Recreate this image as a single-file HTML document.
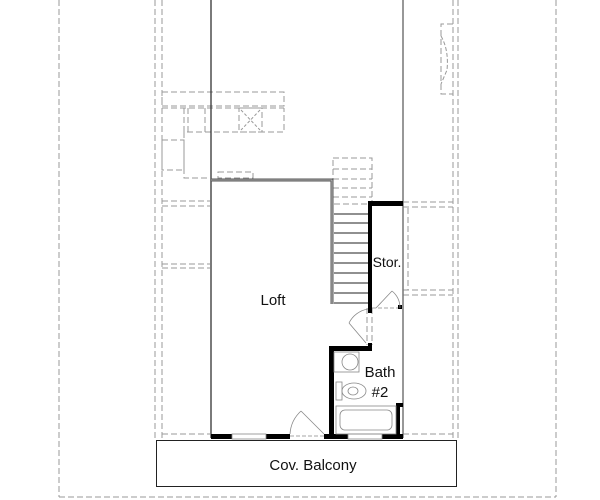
<!DOCTYPE html>
<html><head><style>
html,body{margin:0;padding:0;background:#fff;width:600px;height:500px;overflow:hidden}
svg{display:block}
text{font-family:"Liberation Sans",sans-serif;fill:#111}
</style></head><body>
<svg width="600" height="500" viewBox="0 0 600 500">
<g fill="none" stroke="#999" stroke-width="1" stroke-dasharray="6,3">
  <line x1="59" y1="0" x2="59" y2="497"/>
  <line x1="556" y1="0" x2="556" y2="497"/>
  <line x1="59" y1="497" x2="556" y2="497"/>
  <line x1="155" y1="0" x2="155" y2="440"/>
  <line x1="162" y1="0" x2="162" y2="440"/>
  <line x1="453" y1="0" x2="453" y2="440"/>
  <line x1="458" y1="0" x2="458" y2="440"/>
  <rect x="162" y="92" width="122" height="14"/>
  <line x1="162" y1="108" x2="284" y2="108"/>
  <polyline points="184,108 184,132 284,132 284,108"/>
  <line x1="188" y1="108" x2="188" y2="132"/>
  <line x1="205" y1="108" x2="205" y2="132"/>
  <rect x="239" y="108" width="23" height="24"/>
  <line x1="241" y1="110" x2="260" y2="130" stroke-dasharray="3,2"/>
  <line x1="260" y1="110" x2="241" y2="130" stroke-dasharray="3,2"/>
  <rect x="162" y="140" width="22" height="30"/>
  <polyline points="184,132 184,178 210,178"/>
  <rect x="218" y="172" width="35" height="6"/>
  <line x1="162" y1="201" x2="210" y2="201"/>
  <line x1="162" y1="206" x2="210" y2="206"/>
  <line x1="162" y1="264" x2="210" y2="264"/>
  <line x1="162" y1="268" x2="210" y2="268"/>
  <line x1="162" y1="434" x2="210" y2="434"/>
  <polyline points="453,24 441,24 441,94 453,94"/>
  <path d="M441,36 Q449,50 447,70 L441,84" stroke-dasharray="4,2"/>
  <line x1="403" y1="202" x2="453" y2="202"/>
  <line x1="403" y1="207" x2="453" y2="207"/>
  <line x1="403" y1="290" x2="453" y2="290"/>
  <line x1="403" y1="295" x2="453" y2="295"/>
  <line x1="403" y1="434" x2="453" y2="434"/>
  <line x1="408" y1="208" x2="408" y2="290"/>
  <rect x="333" y="158" width="39" height="46"/>
  <line x1="333" y1="169" x2="372" y2="169"/>
  <line x1="333" y1="179" x2="372" y2="179"/>
  <line x1="333" y1="188" x2="372" y2="188"/>
  <line x1="333" y1="197" x2="372" y2="197"/>
  <line x1="367" y1="308" x2="367" y2="345"/>
  <line x1="372" y1="308" x2="372" y2="345"/>
</g>
<line x1="211" y1="0" x2="211" y2="438" stroke="#222" stroke-width="1.2"/>
<line x1="403" y1="0" x2="403" y2="438" stroke="#777" stroke-width="1.5"/>
<polyline points="211,180 332,180 332,304" fill="none" stroke="#555" stroke-width="3"/>
<polyline points="211,180 332,180 332,304" fill="none" stroke="#fff" stroke-width="0.6"/>
<g stroke="#222" stroke-width="1">
  <line x1="334" y1="214" x2="370" y2="214"/>
  <line x1="334" y1="223" x2="370" y2="223"/>
  <line x1="334" y1="233" x2="370" y2="233"/>
  <line x1="334" y1="243" x2="370" y2="243"/>
  <line x1="334" y1="253" x2="370" y2="253"/>
  <line x1="334" y1="263" x2="370" y2="263"/>
  <line x1="334" y1="273" x2="370" y2="273"/>
  <line x1="334" y1="283" x2="370" y2="283"/>
  <line x1="334" y1="293" x2="370" y2="293"/>
  <line x1="334" y1="303" x2="370" y2="303"/>
</g>
<g fill="#000">
  <rect x="368" y="201" width="35" height="5"/>
  <rect x="368" y="201" width="4" height="112"/>
  <rect x="398" y="305" width="4" height="4"/>
  <rect x="329" y="346" width="43" height="5"/>
  <rect x="368" y="343" width="4" height="8"/>
  <rect x="329" y="346" width="5" height="92"/>
  <rect x="396" y="403" width="7" height="4"/>
  <rect x="396" y="403" width="4" height="35"/>
  <rect x="211" y="434" width="21" height="5"/>
  <rect x="266" y="434" width="24" height="5"/>
  <rect x="324" y="434" width="24" height="5"/>
  <rect x="382" y="434" width="21" height="5"/>
</g>
<g fill="none" stroke="#888" stroke-width="0.8">
  <rect x="232" y="434" width="34" height="5"/>
  <rect x="348" y="434" width="34" height="5"/>
  <line x1="290" y1="436" x2="324" y2="436" stroke-dasharray="4,2"/>
  <line x1="324" y1="434" x2="301" y2="411"/>
  <path d="M290,434 A34,34 0 0 1 301,411"/>
  <line x1="376" y1="308" x2="392" y2="291"/>
  <line x1="372" y1="308" x2="398" y2="308" stroke-dasharray="4,2"/>
  <path d="M392,291 A22,22 0 0 1 400,308"/>
  <line x1="366" y1="343" x2="349" y2="323"/>
  <path d="M349,323 A26,26 0 0 1 368,309"/>
  <rect x="334" y="352" width="25" height="20"/>
  <circle cx="350" cy="362" r="8"/>
  <rect x="336" y="382" width="6" height="18"/>
  <ellipse cx="354" cy="391" rx="12" ry="8"/>
  <ellipse cx="353" cy="391" rx="5" ry="4"/>
  <rect x="336" y="406" width="60" height="28"/>
  <rect x="340" y="410" width="52" height="20" rx="5"/>
</g>
<rect x="156.5" y="440.5" width="300" height="46" fill="none" stroke="#222" stroke-width="1"/>
<text x="273" y="305" font-size="15" text-anchor="middle">Loft</text>
<text x="387" y="267" font-size="14" text-anchor="middle">Stor.</text>
<text x="380" y="377" font-size="15" text-anchor="middle">Bath</text>
<text x="380" y="397" font-size="15" text-anchor="middle">#2</text>
<text x="313" y="470" font-size="15" text-anchor="middle">Cov. Balcony</text>
</svg>
</body></html>
